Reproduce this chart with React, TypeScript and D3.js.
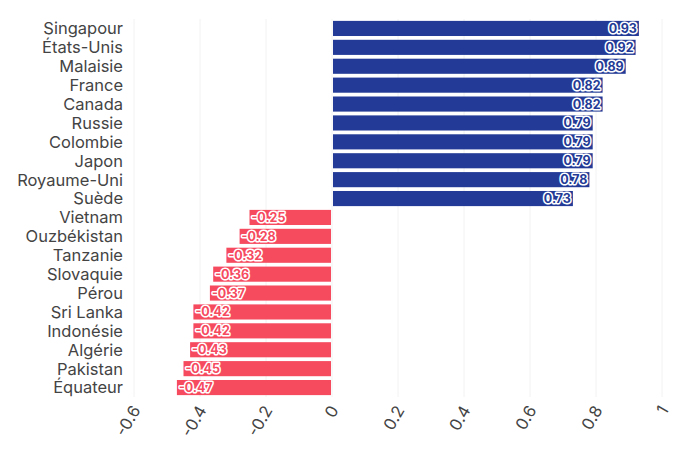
import React, { useEffect, useRef } from "react";
import * as d3 from "d3";

const countries = [
  "Singapour", "États-Unis", "Malaisie", "France", "Canada",
  "Russie", "Colombie", "Japon", "Royaume-Uni", "Suède",
  "Vietnam", "Ouzbékistan", "Tanzanie", "Slovaquie", "Pérou",
  "Sri Lanka", "Indonésie", "Algérie", "Pakistan", "Équateur",
];
const scores = [
  0.93, 0.92, 0.89, 0.82, 0.82, 0.79, 0.79, 0.79, 0.78, 0.73,
  -0.25, -0.28, -0.32, -0.36, -0.37, -0.42, -0.42, -0.43, -0.45, -0.47,
];
const xTicks = [-0.6, -0.4, -0.2, 0, 0.2, 0.4, 0.6, 0.8, 1];

const width = 700;
const height = 456;
const margin = { top: 19, right: 38, bottom: 59, left: 134 };
const blue = "#233b96";
const red = "#f64a5f";
const font = "Inter, 'Noto Sans', sans-serif";

// plain hyphen for negatives, as in the labels
const fmt = (v: number, digits?: number) =>
  (digits === undefined ? String(v) : v.toFixed(digits));

const App = () => {
  const ref = useRef<SVGSVGElement>(null);

  useEffect(() => {
    const svg = d3.select(ref.current);
    svg.selectAll("*").remove();

    const data = countries.map((c, i) => ({ country: c, value: scores[i] }));

    const x = d3.scaleLinear().domain([-0.6, 1]).range([margin.left, width - margin.right]);
    const y = d3.scaleBand()
      .domain(countries)
      .range([margin.top, height - margin.bottom])
      .paddingInner(0.2)
      .paddingOuter(0.1);

    // vertical grid
    svg.append("g")
      .selectAll("line")
      .data(xTicks)
      .join("line")
      .attr("x1", d => x(d))
      .attr("x2", d => x(d))
      .attr("y1", margin.top)
      .attr("y2", height - margin.bottom)
      .attr("stroke", "#f2f2f2")
      .attr("stroke-width", 1);

    svg.append("g")
      .selectAll("rect")
      .data(data)
      .join("rect")
      .attr("x", d => d.value > 0 ? x(0) + 1 : x(d.value))
      .attr("y", d => y(d.country)!)
      .attr("width", d => Math.abs(x(d.value) - x(0)) - 1)
      .attr("height", y.bandwidth())
      .attr("fill", d => d.value > 0 ? blue : red);

    // value labels inside the bar ends
    svg.append("g")
      .selectAll("text")
      .data(data)
      .join("text")
      .attr("x", d => d.value > 0 ? x(d.value) - 2 : x(d.value) + 2)
      .attr("y", d => y(d.country)! + y.bandwidth() / 2)
      .attr("dy", "0.36em")
      .attr("text-anchor", d => d.value > 0 ? "end" : "start")
      .attr("font-family", font)
      .attr("font-size", 12.5)
      .attr("font-weight", 700)
      .attr("fill", d => d.value > 0 ? blue : red)
      .attr("stroke", "#fff")
      .attr("stroke-width", 3)
      .attr("stroke-linejoin", "round")
      .attr("paint-order", "stroke")
      .text(d => fmt(d.value, 2));

    // category labels
    svg.append("g")
      .selectAll("text")
      .data(countries)
      .join("text")
      .attr("x", margin.left - 11)
      .attr("y", d => y(d)! + y.bandwidth() / 2)
      .attr("dy", "0.36em")
      .attr("text-anchor", "end")
      .attr("font-family", font)
      .attr("font-size", 16.5)
      .attr("fill", "#444")
      .text(d => d);

    // rotated x tick labels
    svg.append("g")
      .selectAll("text")
      .data(xTicks)
      .join("text")
      .attr("transform", d => `translate(${x(d) + 2},${height - margin.bottom + 10}) rotate(-60)`)
      .attr("dy", "0.36em")
      .attr("text-anchor", "end")
      .attr("font-family", font)
      .attr("font-size", 16.5)
      .attr("fill", "#444")
      .text(d => fmt(d));
  }, []);

  return (
    <svg
      ref={ref}
      width={width}
      height={height}
      viewBox={`0 0 ${width} ${height}`}
      style={{ position: "absolute", left: 0, top: 0, background: "#fff" }}
    />
  );
};

export default App;
